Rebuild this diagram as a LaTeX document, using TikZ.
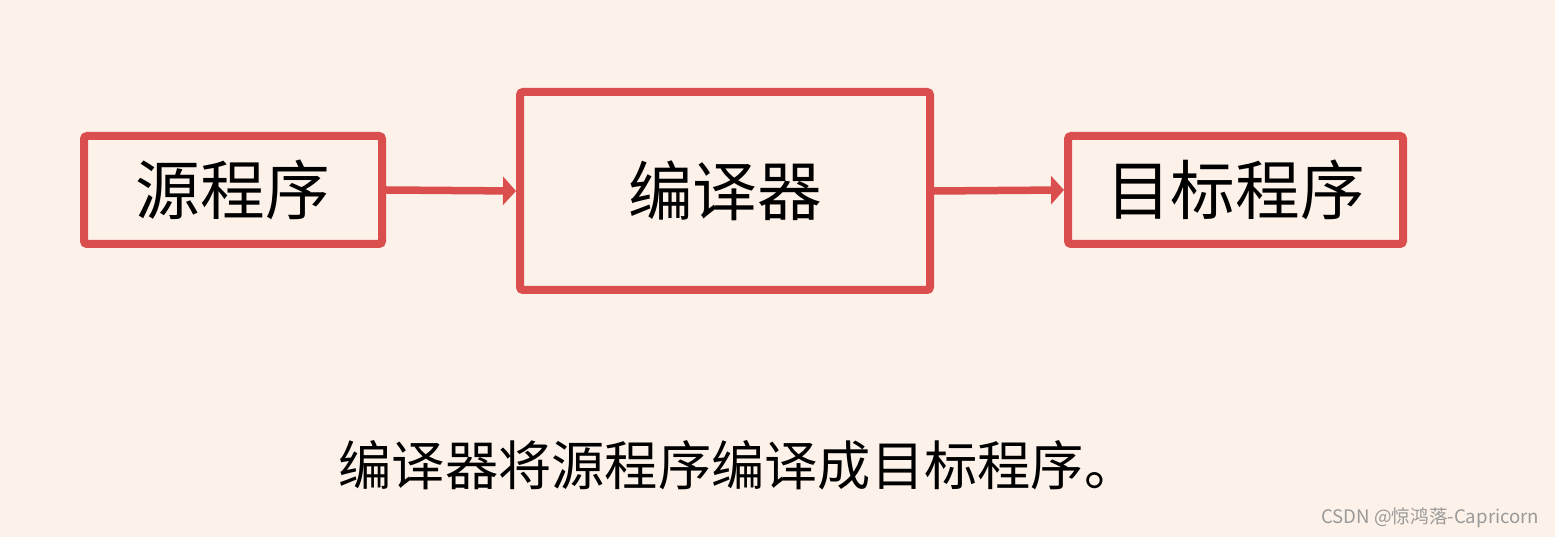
\documentclass[tikz,border=0pt]{standalone}
\usepackage{fontspec}
\setmainfont{Noto Sans CJK SC}
\usetikzlibrary{arrows.meta}
\definecolor{paper}{HTML}{FDF2E9}
\definecolor{boxred}{HTML}{DA4F4D}
\begin{document}
\begin{tikzpicture}[
    box/.style={draw=boxred, line width=0.08cm, rounded corners=0.03cm, inner sep=0pt, font=\fontsize{18.4}{20}\selectfont},
    arrow/.style={draw=boxred, line width=0.075cm, -{Triangle[length=0.13cm, width=0.28cm]}}
]

    % Background
    \fill[paper] (0,0) rectangle (15.55,5.37);
    \useasboundingbox (0,0) rectangle (15.55,5.37);

    % Boxes
    \node[box, minimum width=2.98cm, minimum height=1.08cm] (src) at (2.33,3.47) {源程序};
    \node[box, minimum width=4.10cm, minimum height=1.98cm] (comp) at (7.25,3.46) {编译器};
    \node[box, minimum width=3.35cm, minimum height=1.08cm] (tgt) at (12.355,3.47) {目标程序};

    % Connectors
    \draw[arrow] (src.east) -- (comp.west);
    \draw[arrow] (comp.east) -- (tgt.west);

    % Caption
    \node[font=\fontsize{15.15}{17}\selectfont] (cap) at (7.38,0.72) {编译器将源程序编译成目标程序。};

    % Watermark
    \node[anchor=east, text=gray!80, inner sep=0pt, font=\fontsize{5.3}{6}\selectfont] (mark) at (15.40,0.19) {CSDN @惊鸿落-Capricorn};
\end{tikzpicture}
\end{document}
